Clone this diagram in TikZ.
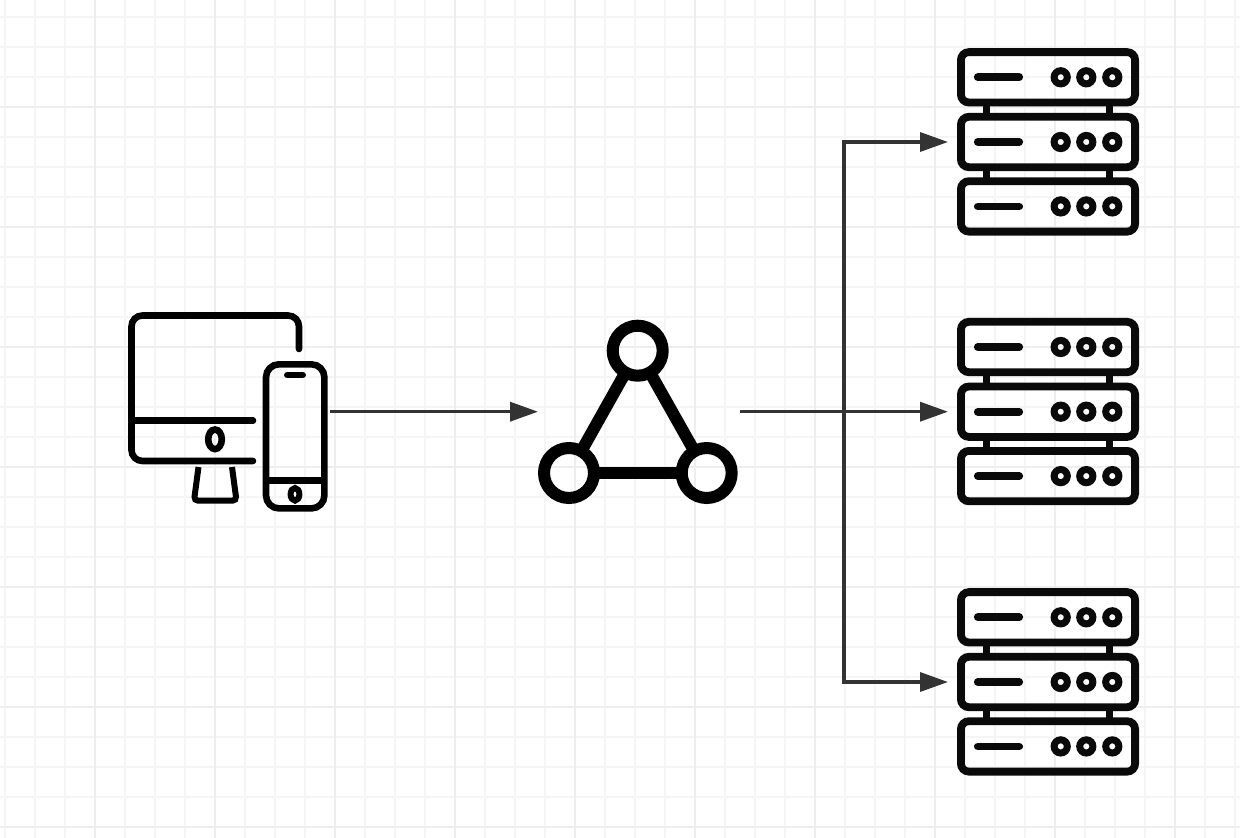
\documentclass[tikz,border=0pt]{standalone}
\usetikzlibrary{arrows.meta}
\definecolor{gridminor}{HTML}{F5F5F5}
\definecolor{gridmajor}{HTML}{EEEEEE}
\definecolor{linkgray}{HTML}{333333}
\definecolor{iconblack}{HTML}{0A0A0A}
\tikzset{
    iconbox/.style={inner sep=0pt, outer sep=0pt, minimum width=#1},
    hub/.style={draw=black, circle, line width=12pt, inner sep=0pt, outer sep=0pt, minimum size=50pt},
    spoke/.style={black, line width=12pt},
    link/.style={-{Triangle[length=28pt, width=19pt]}, linkgray, line width=3.5pt},
    servericon/.pic={
        \foreach \rowy in {-64.7,0,64.4} {
            \draw[iconblack, line width=7.8pt, rounded corners=8pt] (-87.1,\rowy-25.2) rectangle (87.1,\rowy+25.2);
            \draw[iconblack, line width=7.8pt, line cap=round] (-70.2,\rowy) -- (-28.8,\rowy);
            \foreach \dotx in {12.7,38.3,64.3}
                \draw[iconblack, line width=7pt] (\dotx,\rowy) circle (6.6);
        }
        \foreach \postx in {-61.7,61} {
            \draw[iconblack, line width=7pt] (\postx,-36) -- (\postx,-28);
            \draw[iconblack, line width=7pt] (\postx,28) -- (\postx,36);
        }
    }
}
\begin{document}
\begin{tikzpicture}[x=1pt, y=-1pt]
    \useasboundingbox (0,0) rectangle (1240,838);
    \fill[white] (0,0) rectangle (1240,838);
    % grid
    \foreach \gx in {5,35,...,1235} \draw[gridminor, line width=2.3pt] (\gx,0) -- (\gx,838);
    \foreach \gy in {17,47,...,827} \draw[gridminor, line width=2.3pt] (0,\gy) -- (1240,\gy);
    \foreach \gx in {95,215,...,1175} \draw[gridmajor, line width=2.6pt] (\gx,0) -- (\gx,838);
    \foreach \gy in {107,227,...,827} \draw[gridmajor, line width=2.6pt] (0,\gy) -- (1240,\gy);
    % monitor and phone
    \node[iconbox=202pt, minimum height=200pt] at (229,411.7) (client) {};
    \draw[black, line width=6.6pt, line cap=round, rounded corners=11pt] (253,461) -- (131.5,461) -- (131.5,315.5) -- (299,315.5) -- (299,349);
    \draw[black, line width=6.6pt, line cap=round] (131.5,420.7) -- (253,420.7);
    \draw[black, line width=6.6pt] (215,439.3) ellipse (6.8 and 9.8);
    \draw[black, line width=6pt, rounded corners=4pt] (198.5,467) -- (194,500.7) -- (236.5,500.7) -- (232,467);
    \draw[black, line width=6.6pt, rounded corners=13pt] (266,364.3) rectangle (324.4,508.4);
    \draw[black, line width=6.6pt, line cap=round] (287.3,375) -- (302.7,375);
    \draw[black, line width=6.6pt] (266,480.3) -- (324.4,480.3);
    \draw[black, line width=6pt] (295,494.3) ellipse (4.4 and 6.3);
    % broker triangle
    \node[iconbox=202pt, minimum height=190pt] at (639,411.7) (broker) {};
    \node[hub] at (637.7,350.7) (hubtop) {};
    \node[hub] at (569,473) (hubleft) {};
    \node[hub] at (706.7,473) (hubright) {};
    \draw[spoke] (hubtop) -- (hubleft);
    \draw[spoke] (hubtop) -- (hubright);
    \draw[spoke] (hubleft) -- (hubright);
    % server racks
    \node[iconbox=200pt, minimum height=190pt] at (1048,142) (serverA) {};
    \node[iconbox=200pt, minimum height=190pt] at (1048,411.7) (serverB) {};
    \node[iconbox=200pt, minimum height=190pt] at (1048,682) (serverC) {};
    \pic at (1048,142) {servericon};
    \pic at (1048,411.7) {servericon};
    \pic at (1048,682) {servericon};
    % connectors
    \coordinate (branch) at (844,411.7);
    \draw[link] (client) -- (broker);
    \draw[link] (broker) -- (serverB);
    \draw[link] (branch) |- (serverA.west);
    \draw[link] (branch) |- (serverC.west);
\end{tikzpicture}
\end{document}
